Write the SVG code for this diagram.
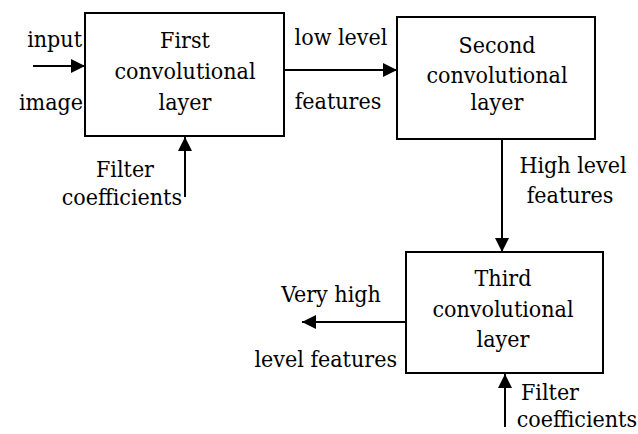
<svg xmlns="http://www.w3.org/2000/svg" width="638" height="434" viewBox="0 0 638 434">
<style>
text{font-family:'DejaVu Serif',serif;font-stretch:condensed;font-size:23px;fill:#000}
.m{text-anchor:middle}.e{text-anchor:end}
rect{fill:#fff;stroke:#000;stroke-width:2}
line{stroke:#000;stroke-width:2}
</style>
<defs>
<marker id="ah" viewBox="0 0 14 14" refX="14" refY="7" markerWidth="14" markerHeight="14" markerUnits="userSpaceOnUse" orient="auto">
<path d="M0,0 L14,7 L0,14 Z" fill="#000"/>
</marker>
</defs>
<rect x="0" y="0" width="638" height="434" style="stroke:none"/>
<g id="connectors">
<line x1="33" y1="66" x2="85" y2="66" marker-end="url(#ah)"/>
<line x1="185" y1="197" x2="185" y2="137" marker-end="url(#ah)"/>
<line x1="285" y1="70" x2="397" y2="70" marker-end="url(#ah)"/>
<line x1="502" y1="140" x2="502" y2="252" marker-end="url(#ah)"/>
<line x1="405" y1="322" x2="302" y2="322" marker-end="url(#ah)"/>
<line x1="505" y1="427" x2="505" y2="374" marker-end="url(#ah)"/>
</g>
<g id="labels">
<text x="82" y="47" class="e">input</text>
<text x="83" y="110" class="e">image</text>
<text x="125" y="177" class="m">Filter</text>
<text x="182" y="205" class="e">coefficients</text>
<text x="341" y="45" class="m">low level</text>
<text x="338" y="109" class="m">features</text>
<text x="573" y="173" class="m">High level</text>
<text x="570" y="203" class="m">features</text>
<text x="331" y="302" class="m">Very high</text>
<text x="397" y="367" class="e">level features</text>
<text x="550" y="400" class="m">Filter</text>
<text x="637" y="427" class="e">coefficients</text>
</g>
<g id="first">
<rect x="85" y="13" width="199" height="123"/>
<text x="185" y="48" class="m">First</text>
<text x="185" y="79" class="m">convolutional</text>
<text x="185" y="110" class="m">layer</text>
</g>
<g id="second">
<rect x="397" y="17" width="198" height="122"/>
<text x="497" y="53" class="m">Second</text>
<text x="497" y="83" class="m">convolutional</text>
<text x="497" y="110" class="m">layer</text>
</g>
<g id="third">
<rect x="406" y="252" width="197" height="121"/>
<text x="503" y="286" class="m">Third</text>
<text x="503" y="317" class="m">convolutional</text>
<text x="503" y="347" class="m">layer</text>
</g>
</svg>
